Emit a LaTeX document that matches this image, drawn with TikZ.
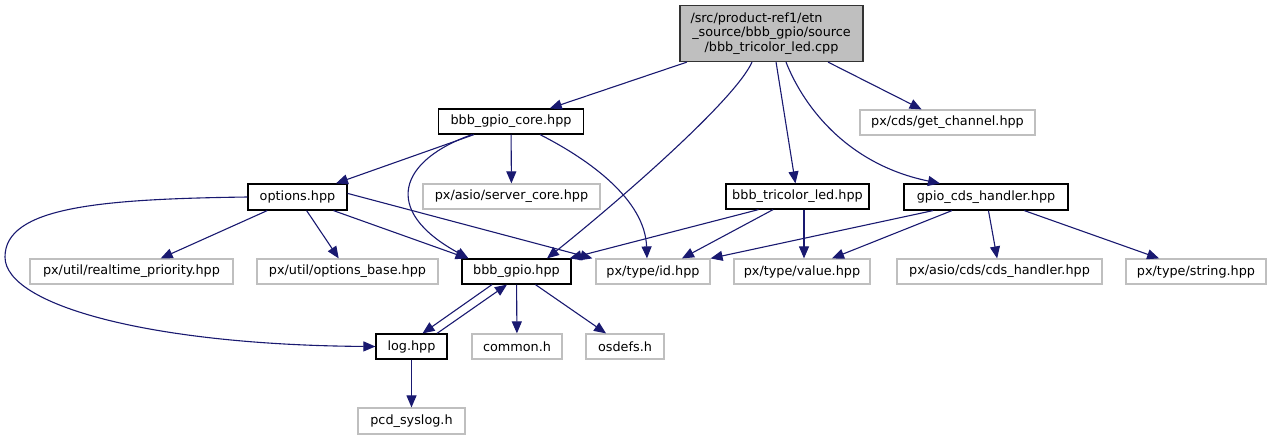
\documentclass[tikz,border=0pt]{standalone}
\usepackage{fontspec}
\setmainfont{DejaVu Sans}
\usetikzlibrary{arrows.meta}
\definecolor{edgeblue}{HTML}{191970}
\definecolor{extgray}{HTML}{BFBFBF}
\definecolor{rootfill}{HTML}{BFBFBF}
\begin{document}
\begin{tikzpicture}[x=1pt,y=1pt,
  box/.style={draw=black,line width=1.2pt,fill=white,inner sep=0pt,minimum height=25pt,
    font=\fontsize{12.8}{14.5}\selectfont},
  extbox/.style={box,draw=extgray},
  rootbox/.style={box,fill=rootfill,draw=black!80,align=center},
  dep/.style={draw=edgeblue,line width=1.1pt,-{Triangle[length=12pt,width=10pt]}}
]
\useasboundingbox (0,0) rectangle (1272,-440);
% nodes
\node[rootbox,minimum width=183pt,minimum height=56pt] (root) at (771.5,-33.5)
  {/src/product-ref1/etn\makebox[30pt]{}\\\_source/bbb\_gpio/source\\/bbb\_tricolor\_led.cpp};
\node[box,minimum width=145pt] (core) at (511,-121.5) {bbb\_gpio\_core.hpp};
\node[extbox,minimum width=175pt] (getch) at (947.5,-122.5) {px/cds/get\_channel.hpp};
\node[box,minimum width=99pt,minimum height=26pt] (options) at (297.5,-197) {options.hpp};
\node[extbox,minimum width=177pt] (server) at (511.5,-196.5) {px/asio/server\_core.hpp};
\node[box,minimum width=143pt] (tricolor) at (797.5,-196.5) {bbb\_tricolor\_led.hpp};
\node[box,minimum width=164pt,minimum height=26pt] (gpiocds) at (986,-197) {gpio\_cds\_handler.hpp};
\node[extbox,minimum width=203pt] (realtime) at (131.5,-271.5) {px/util/realtime\_priority.hpp};
\node[extbox,minimum width=181pt] (optbase) at (347.5,-271.5) {px/util/options\_base.hpp};
\node[box,minimum width=109pt] (bbbgpio) at (516.5,-271.5) {bbb\_gpio.hpp};
\node[extbox,minimum width=114pt] (typeid) at (653,-271.5) {px/type/id.hpp};
\node[extbox,minimum width=136pt] (value) at (802,-271.5) {px/type/value.hpp};
\node[extbox,minimum width=205pt] (cdsh) at (999.5,-271.5) {px/asio/cds/cds\_handler.hpp};
\node[extbox,minimum width=140pt] (string) at (1196,-271.5) {px/type/string.hpp};
\node[box,minimum width=71pt] (log) at (411.5,-346.5) {log.hpp};
\node[extbox,minimum width=90pt] (common) at (517,-346.5) {common.h};
\node[extbox,minimum width=78pt] (osdefs) at (625,-346.5) {osdefs.h};
\node[extbox,minimum width=107pt,minimum height=26pt] (pcd) at (411.5,-421) {pcd\_syslog.h};
% edges from root
\draw[dep] (root) -- (core);
\draw[dep] (root) -- (getch);
\draw[dep] (root) -- (tricolor);
\draw[dep] ([xshift=14.5pt]root.south) .. controls (805,-110) and (850,-165) .. ([xshift=-46pt]gpiocds.north);
\draw[dep] ([xshift=-19.5pt]root.south) .. controls (735,-100) and (620,-200) .. ([xshift=30.5pt]bbbgpio.north);
% edges from core
\draw[dep] (core) -- (options);
\draw[dep] (core) -- (server);
\draw[dep] ([xshift=-39pt]core.south) .. controls (400,-160) and (380,-210) .. ([xshift=-48pt]bbbgpio.north);
\draw[dep] ([xshift=29pt]core.south) .. controls (590,-160) and (645,-200) .. ([xshift=-6pt]typeid.north);
% edges from options
\draw[dep] (options) -- (realtime);
\draw[dep] (options) -- (optbase);
\draw[dep] ([xshift=36pt]options.south) -- ([xshift=-49pt]bbbgpio.north);
\draw[dep] ([yshift=-10pt]options.north east) -- ([xshift=-3pt]typeid.north west);
\draw[dep] (options.west) .. controls (100,-199) and (5,-207) .. (5,-257)
  .. controls (5,-305) and (150,-345) .. (log.west);
% edges from tricolor
\draw[dep] ([xshift=-39pt]tricolor.south) -- ([xshift=-2pt]bbbgpio.north east);
\draw[dep] (tricolor) -- ([xshift=29pt]typeid.north);
\draw[dep] ([xshift=6.5pt]tricolor.south) -- ([xshift=2pt]value.north);
% edges from gpiocds
\draw[dep] ([xshift=-53pt]gpiocds.south) -- (typeid.north east);
\draw[dep] (gpiocds) -- ([xshift=30pt]value.north);
\draw[dep] (gpiocds) -- (cdsh);
\draw[dep] (gpiocds) -- (string);
% edges from bbb_gpio
\draw[dep] ([xshift=-24.5pt]bbbgpio.south) -- ([xshift=11pt]log.north);
\draw[dep] ([xshift=25.5pt]log.north) -- ([xshift=-9.5pt]bbbgpio.south);
\draw[dep] (bbbgpio) -- (common);
\draw[dep] (bbbgpio) -- (osdefs);
% edges from log
\draw[dep] (log) -- (pcd);
\end{tikzpicture}
\end{document}
